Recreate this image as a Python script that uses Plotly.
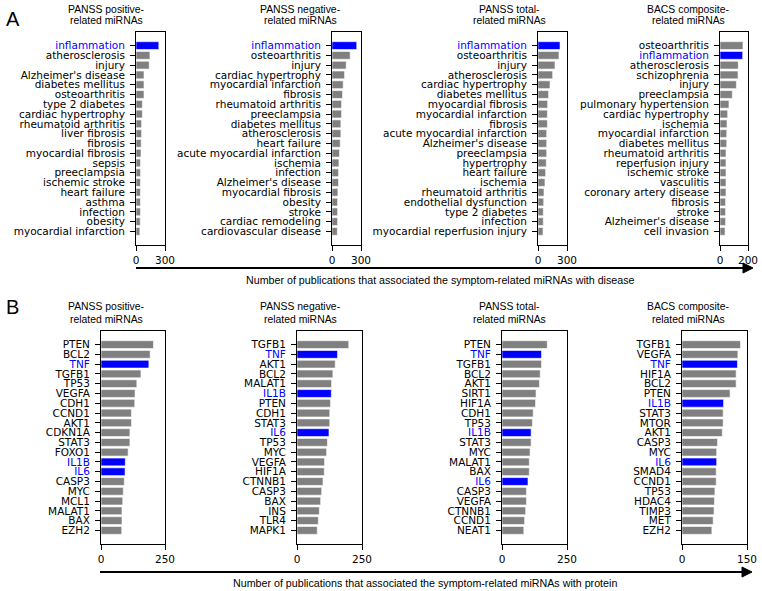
import plotly.graph_objects as go

W, H = 762, 591

# ---------------- data ----------------
a1_labels = ["inflammation", "atherosclerosis", "injury", "Alzheimer's disease", "diabetes mellitus",
             "osteoarthritis", "type 2 diabetes", "cardiac hypertrophy", "rheumatoid arthritis",
             "liver fibrosis", "fibrosis", "myocardial fibrosis", "sepsis", "preeclampsia",
             "ischemic stroke", "heart failure", "asthma", "infection", "obesity", "myocardial infarction"]
a1_values = [236, 144, 137, 83, 83, 83, 66, 66, 58, 58, 54, 52, 47, 47, 46, 46, 46, 46, 44, 40]

a2_labels = ["inflammation", "osteoarthritis", "injury", "cardiac hypertrophy", "myocardial infarction",
             "fibrosis", "rheumatoid arthritis", "preeclampsia", "diabetes mellitus", "atherosclerosis",
             "heart failure", "acute myocardial infarction", "ischemia", "infection", "Alzheimer's disease",
             "myocardial fibrosis", "obesity", "stroke", "cardiac remodeling", "cardiovascular disease"]
a2_values = [256, 188, 147, 130, 116, 109, 99, 99, 92, 92, 85, 78, 72, 68, 68, 61, 58, 58, 58, 55]

a3_labels = ["inflammation", "osteoarthritis", "injury", "atherosclerosis", "cardiac hypertrophy",
             "diabetes mellitus", "myocardial fibrosis", "myocardial infarction", "fibrosis",
             "acute myocardial infarction", "Alzheimer's disease", "preeclampsia", "hypertrophy",
             "heart failure", "ischemia", "rheumatoid arthritis", "endothelial dysfunction",
             "type 2 diabetes", "infection", "myocardial reperfusion injury"]
a3_values = [228, 217, 176, 152, 124, 110, 100, 97, 97, 90, 90, 90, 86, 79, 72, 62, 59, 55, 55, 52]

a4_labels = ["osteoarthritis", "inflammation", "atherosclerosis", "schizophrenia", "injury",
             "preeclampsia", "pulmonary hypertension", "cardiac hypertrophy", "ischemia",
             "myocardial infarction", "diabetes mellitus", "rheumatoid arthritis", "reperfusion injury",
             "ischemic stroke", "vasculitis", "coronary artery disease", "fibrosis", "stroke",
             "Alzheimer's disease", "cell invasion"]
a4_values = [164, 162, 131, 129, 117, 88, 64, 55, 50, 48, 48, 43, 43, 43, 43, 43, 40, 40, 40, 36]

b1_labels = ["PTEN", "BCL2", "TNF", "TGFB1", "TP53", "VEGFA", "CDH1", "CCND1", "AKT1", "CDKN1A",
             "STAT3", "FOXO1", "IL1B", "IL6", "CASP3", "MYC", "MCL1", "MALAT1", "BAX", "EZH2"]
b1_values = [205, 192, 187, 156, 140, 133, 132, 119, 119, 113, 113, 106, 95, 94, 91, 87, 85, 82, 82, 81]

b2_labels = ["TGFB1", "TNF", "AKT1", "BCL2", "MALAT1", "IL1B", "PTEN", "CDH1", "STAT3", "IL6",
             "TP53", "MYC", "VEGFA", "HIF1A", "CTNNB1", "CASP3", "BAX", "INS", "TLR4", "MAPK1"]
b2_values = [199, 156, 147, 138, 133, 132, 129, 126, 126, 123, 117, 114, 106, 105, 100, 95, 91, 86, 82, 78]

b3_labels = ["PTEN", "TNF", "TGFB1", "BCL2", "AKT1", "SIRT1", "HIF1A", "CDH1", "TP53", "IL1B",
             "STAT3", "MYC", "MALAT1", "BAX", "IL6", "CASP3", "VEGFA", "CTNNB1", "CCND1", "NEAT1"]
b3_values = [174, 152, 152, 147, 144, 131, 129, 120, 117, 112, 112, 108, 105, 105, 100, 94, 94, 91, 87, 84]

b4_labels = ["TGFB1", "VEGFA", "TNF", "HIF1A", "BCL2", "PTEN", "IL1B", "STAT3", "MTOR", "AKT1",
             "CASP3", "MYC", "IL6", "SMAD4", "CCND1", "TP53", "HDAC4", "TIMP3", "MET", "EZH2"]
b4_values = [135, 129, 128, 125, 125, 111, 96, 95, 95, 93, 82, 80, 80, 79, 79, 76, 75, 74, 72, 69]

panel_titles = ["PANSS positive-", "PANSS negative-", "PANSS total-", "BACS composite-"]
panel_subtitle = "related miRNAs"
highlight = ["inflammation", "TNF", "IL1B", "IL6"]
a_xmax = [300, 300, 300, 200]
b_xmax = [250, 250, 250, 150]
xlabel_a = "Number of publications that associated the symptom-related miRNAs with disease"
xlabel_b = "Number of publications that associated the symptom-related miRNAs with protein"

# ---------------- layout geometry (window pixels) ----------------
a_cols = [(136, 165), (332, 361), (538, 567), (720, 748)]
b_cols = [(101, 165), (297, 362), (502, 567), (682, 747)]
a_rows = (32, 245)
b_rows = (331, 544)
title_x = [106, 300, 509, 688]

GREY = "#808080"
BLUE = "#0000ff"
TICKFONT = dict(family="DejaVu Sans", size=10.5, color="black")
LABFONT = "Liberation Sans, Arial"


def fx(x):
    return x / W


def fy(y):
    return 1 - y / H


panels = []
for i, (lab, val) in enumerate([(a1_labels, a1_values), (a2_labels, a2_values),
                                (a3_labels, a3_values), (a4_labels, a4_values)]):
    panels.append((lab, val, a_cols[i], a_rows, a_xmax[i]))
for i, (lab, val) in enumerate([(b1_labels, b1_values), (b2_labels, b2_values),
                                (b3_labels, b3_values), (b4_labels, b4_values)]):
    panels.append((lab, val, b_cols[i], b_rows, b_xmax[i]))

fig = go.Figure()
layout = {}
for k, (labels, values, (x0, x1), (y0, y1), xmax) in enumerate(panels, start=1):
    xs = "x" if k == 1 else f"x{k}"
    ys = "y" if k == 1 else f"y{k}"
    xk = "xaxis" if k == 1 else f"xaxis{k}"
    yk = "yaxis" if k == 1 else f"yaxis{k}"
    idx = list(range(len(labels)))
    colors = [BLUE if l in highlight else GREY for l in labels]
    ticktext = [f'<span style="color:{BLUE}">{l}</span>' if l in highlight else l for l in labels]
    fig.add_trace(go.Bar(x=values, y=idx, orientation="h", width=0.8,
                         marker=dict(color=colors, line=dict(color="white", width=0.6)),
                         xaxis=xs, yaxis=ys, showlegend=False, hoverinfo="skip"))
    n = len(labels)
    layout[xk] = dict(domain=[fx(x0), fx(x1)], anchor=ys, range=[0, xmax],
                      tickvals=[0, xmax], ticktext=[str(0), str(xmax)],
                      ticks="outside", ticklen=5, tickcolor="black", tickwidth=1,
                      showline=True, linecolor="black", linewidth=1, mirror=True,
                      showgrid=False, zeroline=False, tickfont=TICKFONT, fixedrange=True)
    layout[yk] = dict(domain=[fy(y1), fy(y0)], anchor=xs,
                      range=[n - 1 + 0.4 + 0.99, -0.4 - 0.99],
                      tickvals=idx, ticktext=ticktext,
                      ticks="outside", ticklen=5, tickcolor="black", tickwidth=1,
                      ticklabelstandoff=3,
                      showline=True, linecolor="black", linewidth=1, mirror=True,
                      showgrid=False, zeroline=False, tickfont=TICKFONT, fixedrange=True)

annotations = []
for row_y in [(9, 20.5), (306, 319.7)]:
    for tx, t in zip(title_x, panel_titles):
        annotations.append(dict(x=fx(tx), y=fy(row_y[0]), xref="paper", yref="paper", text=t,
                                showarrow=False, xanchor="center", yanchor="middle",
                                font=dict(family=LABFONT, size=10.4, color="black")))
        annotations.append(dict(x=fx(tx), y=fy(row_y[1]), xref="paper", yref="paper", text=panel_subtitle,
                                showarrow=False, xanchor="center", yanchor="middle",
                                font=dict(family=LABFONT, size=10.4, color="black")))

annotations.append(dict(x=fx(13), y=fy(19), xref="paper", yref="paper", text="A", showarrow=False,
                        xanchor="center", yanchor="middle", font=dict(family=LABFONT, size=20, color="black")))
annotations.append(dict(x=fx(12), y=fy(307), xref="paper", yref="paper", text="B", showarrow=False,
                        xanchor="center", yanchor="middle", font=dict(family=LABFONT, size=20, color="black")))

annotations.append(dict(x=fx(440), y=fy(280), xref="paper", yref="paper", text=xlabel_a, showarrow=False,
                        xanchor="center", yanchor="middle", font=dict(family=LABFONT, size=10.7, color="black")))
annotations.append(dict(x=fx(425), y=fy(583), xref="paper", yref="paper", text=xlabel_b, showarrow=False,
                        xanchor="center", yanchor="middle", font=dict(family=LABFONT, size=10.7, color="black")))

shapes = []
for (sx, sy, tip) in [(136, 268, 753), (100, 572, 752)]:
    shapes.append(dict(type="line", xref="paper", yref="paper", x0=fx(sx), x1=fx(tip - 6),
                       y0=fy(sy), y1=fy(sy), line=dict(color="black", width=2)))
    path = (f"M {fx(tip)} {fy(sy)} L {fx(tip - 10)} {fy(sy - 5)} "
            f"L {fx(tip - 10)} {fy(sy + 5)} Z")
    shapes.append(dict(type="path", xref="paper", yref="paper", path=path,
                       fillcolor="black", line=dict(color="black", width=1)))

fig.update_layout(width=W, height=H, autosize=False, margin=dict(l=0, r=0, t=0, b=0),
                  paper_bgcolor="white", plot_bgcolor="white", template="none",
                  bargap=0, annotations=annotations, shapes=shapes, **layout)

fig.write_html("out.html", config={"displayModeBar": False, "staticPlot": True},
               post_script="document.body.style.margin='0px';document.body.style.overflow='hidden';")
